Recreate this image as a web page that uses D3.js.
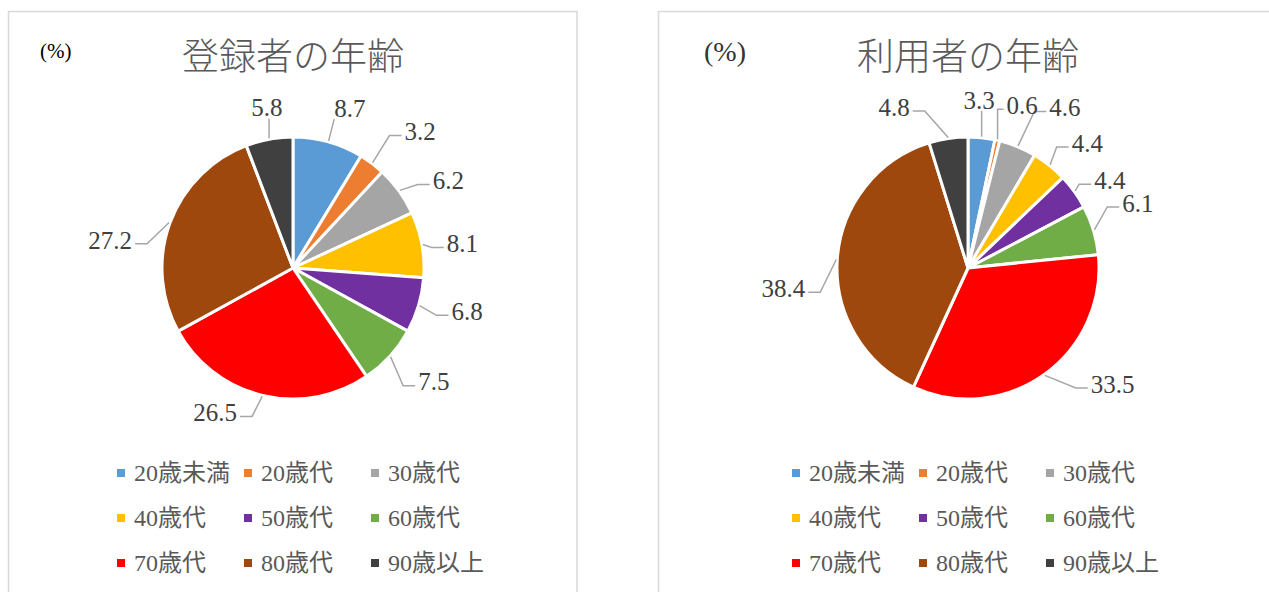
<!DOCTYPE html>
<html>
<head>
<meta charset="utf-8">
<script src="https://cdn.jsdelivr.net/npm/d3@7"></script>
<style>
  html, body { margin: 0; padding: 0; background: #fff; }
  svg { display: block; }
  text { font-family: "Liberation Serif", "DejaVu Serif", "Noto Sans CJK JP", serif; }
</style>
</head>
<body>
<svg id="chart" width="1269" height="592"></svg>
<script>
// ---- data ----
const categories = ["20歳未満", "20歳代", "30歳代", "40歳代", "50歳代", "60歳代", "70歳代", "80歳代", "90歳以上"];
const registeredValues = [8.7, 3.2, 6.2, 8.1, 6.8, 7.5, 26.5, 27.2, 5.8];
const userValues = [3.3, 0.6, 4.6, 4.4, 4.4, 6.1, 33.5, 38.4, 4.8];
const chartTitles = ["登録者の年齢", "利用者の年齢"];
const unitLabel = "(%)";
const sliceColors = ["#5B9BD5", "#ED7D31", "#A5A5A5", "#FFC000", "#7030A0", "#70AD47", "#FF0000", "#9E480E", "#404040"];

// ---- layout (label nudges relative to default outside position, px) ----
const leftNudge = [[12,0],[27,-4],[21,10],[6,5],[15,-4],[18,2],[-39,-17],[-27,29],[4,3]];
const rightNudge = [[-6,-3],[17,-1],[34,-7],[16,5],[7,9],[11,-17],[48,-19],[-19,31],[-49,3]];

const svg = d3.select("#chart");

const panels = [
  { x: 8.5, w: 568.5, cx: 293, values: registeredValues, title: chartTitles[0], nudge: leftNudge, unitX: 40, unitSize: 21, unitColor: "#000" },
  { x: 658.5, w: 700, cx: 968, values: userValues, title: chartTitles[1], nudge: rightNudge, unitX: 704, unitSize: 28, unitColor: "#333" }
];

const cy = 268, R = 131, labelR = 166;
const polar = (cx, r, a) => [cx + r * Math.sin(a), cy - r * Math.cos(a)];

panels.forEach(p => {
  const g = svg.append("g");
  g.append("rect").attr("x", p.x).attr("y", 11.5).attr("width", p.w).attr("height", 700)
    .attr("fill", "#fff").attr("stroke", "#d9d9d9").attr("stroke-width", 1.5);

  g.append("text").attr("x", p.cx).attr("y", 57).attr("dy", "0.35em")
    .attr("text-anchor", "middle").attr("font-size", 37).attr("fill", "#595959")
    .style("font-family", "'Noto Sans CJK JP', sans-serif").style("font-weight", 300)
    .text(p.title);

  g.append("text").attr("x", p.unitX).attr("y", 51).attr("dy", "0.35em")
    .attr("font-size", p.unitSize).attr("fill", p.unitColor).text(unitLabel);

  const pie = d3.pie().sort(null).value(d => d)(p.values);
  const arc = d3.arc().innerRadius(0).outerRadius(R);
  const pg = g.append("g").attr("transform", `translate(${p.cx},${cy})`);
  pg.selectAll("path").data(pie).join("path")
    .attr("d", arc)
    .attr("fill", (d, i) => sliceColors[i])
    .attr("stroke", "#fff").attr("stroke-width", 3).attr("stroke-linejoin", "round");

  // data labels + leader lines
  const lg = g.append("g");
  pie.forEach((d, i) => {
    const a = (d.startAngle + d.endAngle) / 2;
    const [bx, by] = polar(p.cx, labelR, a);
    const lx = bx + p.nudge[i][0], ly = by + p.nudge[i][1];
    const t = lg.append("text").attr("x", lx).attr("y", ly).attr("dy", "0.35em")
      .attr("text-anchor", "middle").attr("font-size", 25).attr("fill", "#404040")
      .text(d3.format(".1f")(p.values[i]));
    const w = t.node().getComputedTextLength();
    const h = 18;
    const [sx, sy] = polar(p.cx, R + 1, a);
    let pts;
    if (Math.abs(lx - sx) > w / 2 + 6) {
      const dir = lx > sx ? 1 : -1;
      const ex = lx - dir * (w / 2 + 3), ey = ly + 4;
      let mx = ex - dir * 12;
      if ((mx - sx) * dir < 0) mx = sx;
      pts = [[sx, sy], [mx, ey], [ex, ey]];
    } else {
      const ex = Math.max(lx - w / 2, Math.min(lx + w / 2, sx));
      const ey = ly + (ly < sy ? h / 2 + 2 : -h / 2 - 2);
      pts = [[sx, sy], [ex, ey]];
    }
    lg.insert("path", "text").attr("d", d3.line()(pts))
      .attr("fill", "none").attr("stroke", "#A6A6A6").attr("stroke-width", 1.5);
  });

  // legend
  const leg = g.append("g");
  categories.forEach((c, i) => {
    const col = i % 3, row = Math.floor(i / 3);
    const mx = p.cx - 172 + col * 127, my = 473 + row * 45;
    leg.append("rect").attr("x", mx - 4).attr("y", my - 4).attr("width", 8).attr("height", 8)
      .attr("fill", sliceColors[i]);
    leg.append("text").attr("x", mx + 13).attr("y", my).attr("dy", "0.35em")
      .attr("font-size", 24).attr("fill", "#595959").text(c);
  });
});
</script>
</body>
</html>
